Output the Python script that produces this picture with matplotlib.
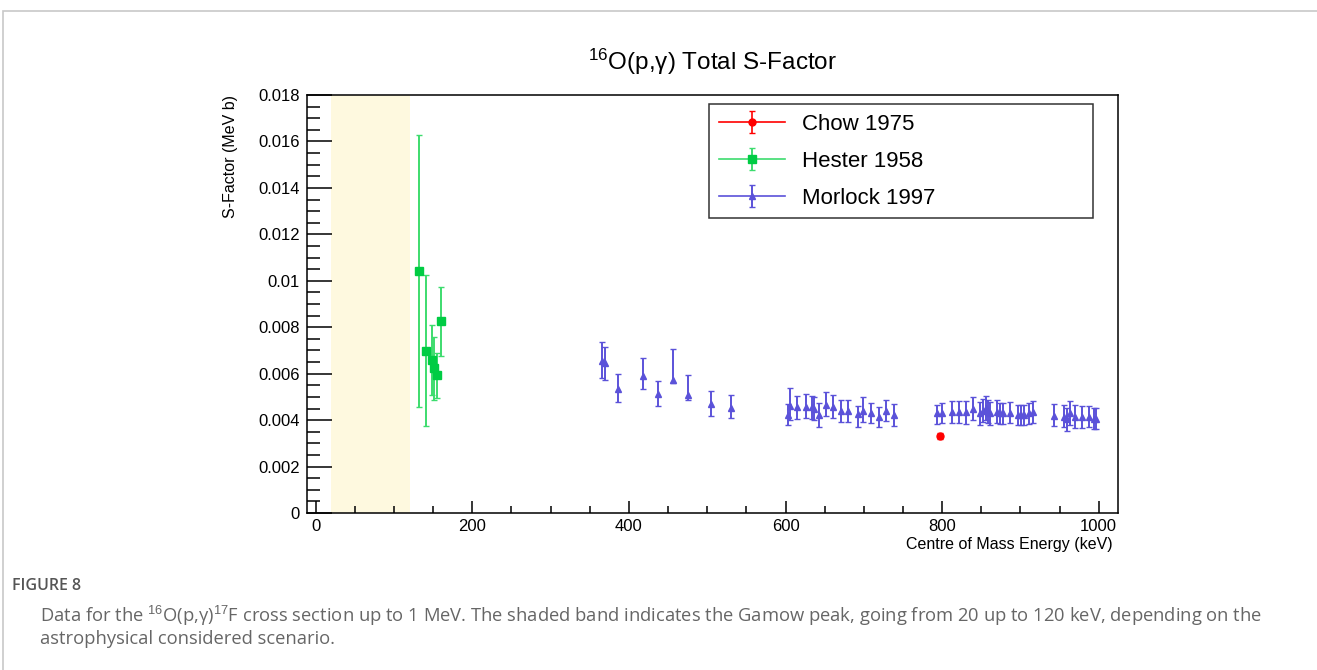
import numpy as np
import matplotlib
matplotlib.use("Agg")
from matplotlib import pyplot as plt
from matplotlib.ticker import MultipleLocator, FuncFormatter
from matplotlib.lines import Line2D
from matplotlib.patches import Rectangle

plt.rcParams['font.family'] = ['Liberation Sans', 'DejaVu Sans']
plt.rcParams['mathtext.fontset'] = 'custom'
plt.rcParams['mathtext.rm'] = 'Liberation Sans'
plt.rcParams['mathtext.it'] = 'Liberation Sans:italic'

# data (keV, MeV b)
hester_e = [131.5, 140.5, 148.2, 150.8, 154.6, 159.8]
hester_s = [0.01042, 0.00698, 0.00659, 0.00623, 0.00593, 0.00825]
hester_err = [0.00585, 0.00325, 0.00150, 0.00136, 0.00098, 0.00150]

chow_e = [797.8]
chow_s = [0.00332]
chow_err = [0.00012]

morlock_e = [365.4, 369.6, 385.9, 418.3, 437.2, 456.8, 475.6, 504.2, 529.9,
             603.5, 605.5, 614.9, 626.4, 633.7, 636.5, 643.0, 651.7, 660.6,
             670.9, 680.3, 692.3, 699.1, 709.4, 719.2, 728.6, 738.5,
             793.0, 799.5, 812.8, 821.8, 830.3, 838.8, 848.2, 851.7, 856.0,
             859.0, 861.5, 869.6, 873.8, 878.2, 886.7, 896.5, 900.8, 905.1,
             910.6, 915.8, 942.3, 955.1, 959.4, 963.6, 969.2, 979.0, 987.6,
             993.6, 997.0]
morlock_s = [0.00656, 0.00645, 0.00534, 0.00591, 0.00512, 0.00573, 0.00509, 0.00468, 0.00451,
             0.00420, 0.00460, 0.00455, 0.00458, 0.00455, 0.00450, 0.00422, 0.00465, 0.00458,
             0.00440, 0.00440, 0.00425, 0.00440, 0.00429, 0.00415, 0.00440, 0.00422,
             0.00429, 0.00429, 0.00434, 0.00434, 0.00434, 0.00447, 0.00429, 0.00440, 0.00451,
             0.00437, 0.00429, 0.00437, 0.00429, 0.00429, 0.00429, 0.00422, 0.00422, 0.00422,
             0.00429, 0.00434, 0.00418, 0.00415, 0.00403, 0.00429, 0.00415, 0.00412, 0.00415,
             0.00403, 0.00403]
morlock_lo = [0.00073, 0.00072, 0.00056, 0.00058, 0.00051, 0.00015, 0.00022, 0.00050, 0.00042,
              0.00040, 0.00060, 0.00050, 0.00050, 0.00050, 0.00050, 0.00050, 0.00047, 0.00050,
              0.00047, 0.00047, 0.00053, 0.00047, 0.00040, 0.00043, 0.00042, 0.00047,
              0.00045, 0.00043, 0.00048, 0.00048, 0.00050, 0.00047, 0.00050, 0.00050, 0.00050,
              0.00050, 0.00050, 0.00050, 0.00045, 0.00045, 0.00043, 0.00045, 0.00045, 0.00045,
              0.00045, 0.00045, 0.00045, 0.00045, 0.00050, 0.00050, 0.00048, 0.00045, 0.00043,
              0.00043, 0.00043]
morlock_hi = [0.00082, 0.00071, 0.00065, 0.00075, 0.00058, 0.00133, 0.00085, 0.00059, 0.00058,
              0.00050, 0.00080, 0.00050, 0.00054, 0.00050, 0.00050, 0.00053, 0.00057, 0.00050,
              0.00047, 0.00047, 0.00037, 0.00061, 0.00043, 0.00043, 0.00047, 0.00047,
              0.00036, 0.00046, 0.00050, 0.00050, 0.00050, 0.00054, 0.00050, 0.00050, 0.00054,
              0.00050, 0.00050, 0.00050, 0.00045, 0.00045, 0.00047, 0.00045, 0.00045, 0.00045,
              0.00045, 0.00048, 0.00050, 0.00050, 0.00048, 0.00055, 0.00048, 0.00048, 0.00045,
              0.00048, 0.00048]

gamow = (20, 120)

fig = plt.figure(figsize=(13.17, 6.70), dpi=100)
W, H = 1317, 670
ax = fig.add_axes([307 / W, 1 - 513 / H, 811 / W, 418 / H])

ax.axvspan(gamow[0], gamow[1], color='#fef9df', lw=0, zorder=0)

red = '#ff0000'
green = '#00cc44'
blue = '#5b52d9'

eb_c = ax.errorbar(chow_e, chow_s, yerr=chow_err, fmt='o', color=red, ms=5,
                   elinewidth=1.2, capsize=2, zorder=3)
eb_h = ax.errorbar(hester_e, hester_s, yerr=hester_err, fmt='s', color=green, ms=5.5,
                   ecolor='#3ddc6e', elinewidth=1.4, capsize=2, zorder=3)
eb_m = ax.errorbar(morlock_e, morlock_s, yerr=[morlock_lo, morlock_hi], fmt='^', color=blue,
                   ms=5, ecolor=blue, elinewidth=1.4, capsize=2, zorder=3)

ax.set_xlim(-11.1, 1024.6)
ax.set_ylim(0, 0.018)

ax.xaxis.set_major_locator(MultipleLocator(200))
ax.xaxis.set_minor_locator(MultipleLocator(50))
ax.yaxis.set_major_locator(MultipleLocator(0.002))
ax.yaxis.set_minor_locator(MultipleLocator(0.0005))
ax.yaxis.set_major_formatter(FuncFormatter(lambda v, p: '%g' % round(v, 4)))

ax.tick_params(axis='y', which='major', direction='in', length=18, width=1.1, labelsize=12, pad=5)
ax.tick_params(axis='y', which='minor', direction='in', length=9, width=1.1)
ax.tick_params(axis='x', which='major', direction='in', length=9, width=1.1, labelsize=12, pad=4)
ax.tick_params(axis='x', which='minor', direction='in', length=5, width=1.1)
for sp in ax.spines.values():
    sp.set_linewidth(1.1)

ax.set_title(r'$^{16}$O(p,γ) Total S-Factor', fontsize=17.5, pad=18)
ax.set_ylabel('S-Factor (MeV b)', fontsize=11.5, loc='top')
ax.yaxis.set_label_coords(-0.085, 1.0)
ax.set_xlabel('Centre of Mass Energy (keV)', fontsize=11.5, loc='right')
ax.xaxis.set_label_coords(0.993, -0.057)

# legend entries with horizontal line like ROOT
hl = [Line2D([], [], color=c, lw=1.2) for c in (red, '#3ddc6e', blue)]
leg = ax.legend([(hl[0], eb_c), (hl[1], eb_h), (hl[2], eb_m)],
                ['Chow 1975', 'Hester 1958', 'Morlock 1997'],
                loc='upper left', bbox_to_anchor=(0.496, 0.715, 0.473, 0.263), mode='expand',
                borderaxespad=0, fontsize=16, frameon=True, fancybox=False, edgecolor='black',
                handlelength=3.0, handletextpad=0.75, borderpad=0.42, labelspacing=0.72)
leg.get_frame().set_linewidth(1.1)

# outer frame of the figure panel
fig.patches.append(Rectangle((3 / W, -0.01), 1.0, (670 - 11) / H + 0.01, transform=fig.transFigure,
                             fill=False, edgecolor='#c8c8c8', lw=1.2))

fig.text(12 / W, 1 - 586 / H, 'FIGURE 8', fontsize=11.5, color='#555555', fontweight='semibold',
         family=['Open Sans', 'DejaVu Sans'], va='center')
cap1 = (r'Data for the $^{16}$O(p,γ)$^{17}$F cross section up to 1 MeV. The shaded band indicates the '
        'Gamow peak, going from 20 up to 120 keV, depending on the')
fig.text(40 / W, 1 - 616 / H, cap1, fontsize=13.2, color='#666666',
         family=['Open Sans', 'DejaVu Sans'], va='center')
fig.text(40 / W, 1 - 639 / H, 'astrophysical considered scenario.', fontsize=13.2, color='#666666',
         family=['Open Sans', 'DejaVu Sans'], va='center')

fig.savefig('out.png', dpi=100)
